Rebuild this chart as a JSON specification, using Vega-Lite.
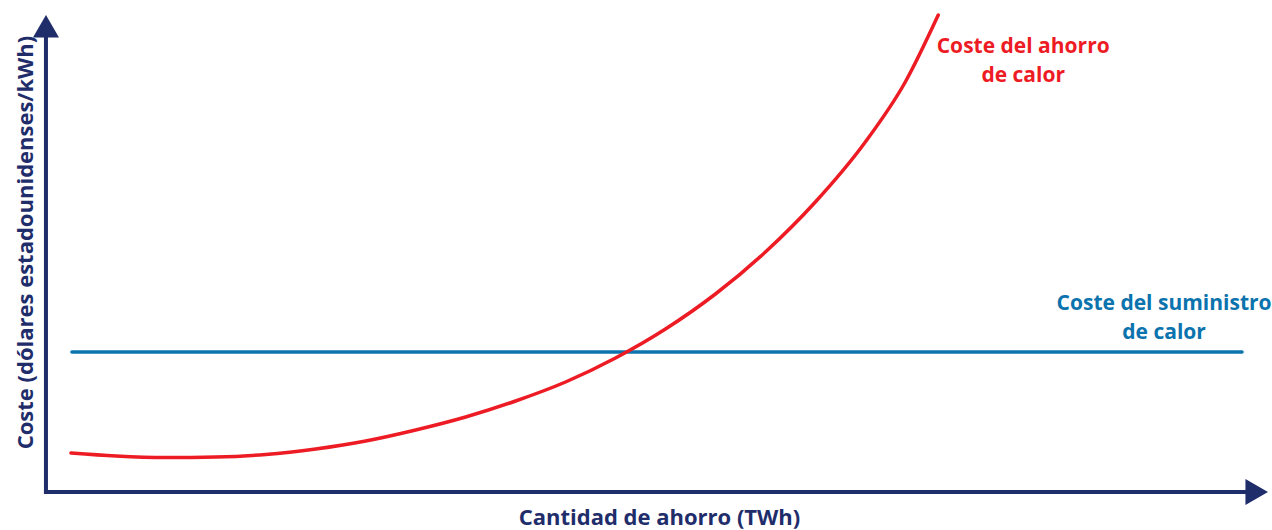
{
  "$schema": "https://vega.github.io/schema/vega-lite/v6.json",
  "width": 1272,
  "height": 530,
  "padding": 0,
  "autosize": {"type": "fit", "contains": "padding"},
  "background": "white",
  "config": {"view": {"stroke": null}},
  "datasets": {
    "curve": [
      {"ahorro": 2.5, "coste": 3.9},
      {"ahorro": 7, "coste": 3.6},
      {"ahorro": 12, "coste": 3.45},
      {"ahorro": 17, "coste": 3.5},
      {"ahorro": 22, "coste": 3.75},
      {"ahorro": 27, "coste": 4.3},
      {"ahorro": 32, "coste": 5.1},
      {"ahorro": 37, "coste": 6.2},
      {"ahorro": 42, "coste": 7.5},
      {"ahorro": 47, "coste": 9.1},
      {"ahorro": 52, "coste": 11.0},
      {"ahorro": 57, "coste": 13.4},
      {"ahorro": 62, "coste": 16.3},
      {"ahorro": 67, "coste": 19.8},
      {"ahorro": 72, "coste": 24.0},
      {"ahorro": 77, "coste": 29.0},
      {"ahorro": 82, "coste": 35.0},
      {"ahorro": 86, "coste": 41.0},
      {"ahorro": 89.3, "coste": 47.7}
    ],
    "supply": [
      {"ahorro": 2.6, "coste": 14.0},
      {"ahorro": 119.7, "coste": 14.0}
    ],
    "axes": [
      {"x": 0, "y": -0.2, "x2": 0, "y2": 46.0},
      {"x": -0.2, "y": 0, "x2": 121.0, "y2": 0}
    ],
    "arrows": [
      {"x": 0, "y": 46.57, "shape": "triangle-up"},
      {"x": 121.17, "y": 0, "shape": "triangle-right"}
    ],
    "labels": [
      {"x": 97.8, "y": 43.9, "text": "Coste del ahorro\nde calor", "serie": "ahorro"},
      {"x": 111.9, "y": 18.2, "text": "Coste del suministro\nde calor", "serie": "suministro"}
    ],
    "titles": [
      {"x": 61.4, "y": -3.3, "text": "Cantidad de ahorro (TWh)", "angle": 0},
      {"x": -1.3, "y": 24.95, "text": "Coste (dólares estadounidenses/kWh)", "angle": 270}
    ]
  },
  "layer": [
    {
      "data": {"name": "axes"},
      "mark": {"type": "rule", "color": "#1f2d6b", "strokeWidth": 4},
      "encoding": {
        "x": {"field": "x", "type": "quantitative", "scale": {"domain": [-4.6, 122.6], "nice": false, "zero": false}, "axis": null},
        "y": {"field": "y", "type": "quantitative", "scale": {"domain": [-3.8, 49.2], "nice": false, "zero": false}, "axis": null},
        "x2": {"field": "x2"},
        "y2": {"field": "y2"}
      }
    },
    {
      "data": {"name": "arrows"},
      "mark": {"type": "point", "filled": true, "color": "#1f2d6b", "opacity": 1, "size": 676, "strokeWidth": 0},
      "encoding": {
        "x": {"field": "x", "type": "quantitative", "axis": null},
        "y": {"field": "y", "type": "quantitative", "axis": null},
        "shape": {"field": "shape", "type": "nominal", "scale": null, "legend": null}
      }
    },
    {
      "data": {"name": "supply"},
      "mark": {"type": "line", "color": "#0b73ad", "strokeWidth": 3.5, "strokeCap": "round"},
      "encoding": {
        "x": {"field": "ahorro", "type": "quantitative", "axis": null},
        "y": {"field": "coste", "type": "quantitative", "axis": null}
      }
    },
    {
      "data": {"name": "curve"},
      "mark": {"type": "line", "color": "#ed1c24", "strokeWidth": 3.5, "interpolate": "monotone", "strokeCap": "round"},
      "encoding": {
        "x": {"field": "ahorro", "type": "quantitative", "axis": null},
        "y": {"field": "coste", "type": "quantitative", "axis": null}
      }
    },
    {
      "data": {"name": "labels"},
      "mark": {"type": "text", "font": "Open Sans", "fontWeight": "bold", "fontSize": 21, "align": "center", "baseline": "alphabetic", "lineBreak": "\n", "lineHeight": 29},
      "encoding": {
        "x": {"field": "x", "type": "quantitative", "axis": null},
        "y": {"field": "y", "type": "quantitative", "axis": null},
        "text": {"field": "text"},
        "color": {"field": "serie", "type": "nominal", "scale": {"domain": ["ahorro", "suministro"], "range": ["#ed1c24", "#0b73ad"]}, "legend": null}
      }
    },
    {
      "data": {"name": "titles"},
      "mark": {"type": "text", "font": "Open Sans", "fontWeight": "bold", "fontSize": 22, "align": "center", "baseline": "alphabetic", "color": "#1f2d6b"},
      "encoding": {
        "x": {"field": "x", "type": "quantitative", "axis": null},
        "y": {"field": "y", "type": "quantitative", "axis": null},
        "text": {"field": "text"},
        "angle": {"field": "angle", "type": "quantitative", "scale": null}
      }
    }
  ]
}
